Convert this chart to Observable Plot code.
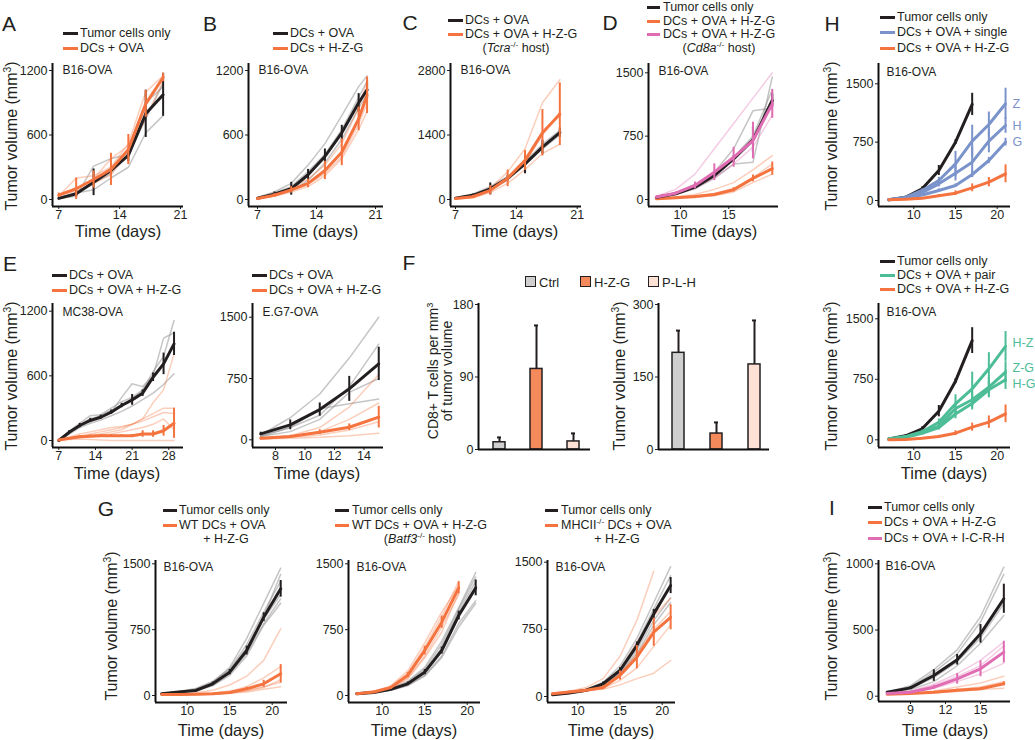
<!DOCTYPE html>
<html><head><meta charset="utf-8">
<script src="https://cdn.jsdelivr.net/npm/d3@7"></script>
<script src="https://cdn.jsdelivr.net/npm/@observablehq/plot@0.6"></script>
<style>
body{margin:0;background:#fff;}
#fig{position:relative;width:1035px;height:740px;overflow:hidden;font-family:"Liberation Sans",Arial,sans-serif;color:#231f20;}
.t{position:absolute;white-space:nowrap;line-height:1;}
.t sup{font-size:65%;vertical-align:0.55em;line-height:0;}
svg{overflow:visible;}
</style></head>
<body><div id="fig"></div>
<script>
// ---------------- DATA ----------------
// Panel A
const daysA = [7, 9, 11, 13, 15, 17, 19];
const aTumor = [10, 53, 160, 270, 410, 797, 974];
const aTumorErr = [5, 30, 124, 40, 60, 220, 200];
const aTumorInd = [[10, 30, 310, 380, 420, 750, 1080], [10, 60, 90, 200, 300, 620, 780], [15, 60, 150, 240, 470, 900, 1050]];
const aDcs = [40, 100, 186, 280, 465, 890, 1135];
const aDcsErr = [20, 100, 80, 150, 140, 125, 40];
const aDcsInd = [[30, 200, 220, 300, 520, 1000, 1150], [40, 80, 150, 230, 430, 760, 1100], [50, 100, 190, 380, 500, 880, 1140]];
// Panel B
const daysB = [7, 9, 11, 13, 15, 17, 19, 20];
const bOva = [12, 50, 100, 230, 400, 620, 900, 1020];
const bOvaErr = [5, 20, 60, 50, 70, 70, 85, 80];
const bOvaInd = [[20, 70, 150, 320, 520, 780, 1050, 1150], [10, 40, 80, 180, 340, 560, 850, 980], [15, 60, 120, 260, 420, 650, 950, 1100]];
const bHzg = [10, 40, 90, 150, 270, 440, 750, 970];
const bHzgErr = [5, 15, 30, 40, 85, 125, 110, 170];
const bHzgInd = [[10, 30, 70, 120, 220, 380, 650, 820], [10, 50, 110, 190, 320, 520, 850, 1100], [5, 35, 80, 140, 240, 400, 700, 900]];
// Panel C
const daysC = [7, 9, 11, 13, 15, 17, 19];
const cOva = [30, 90, 230, 460, 775, 1135, 1450];
const cOvaErr = [10, 30, 130, 60, 217, 150, 100];
const cOvaInd = [[40, 120, 280, 500, 750, 1100, 1400], [30, 80, 200, 420, 820, 1200, 1500]];
const cHzg = [20, 60, 200, 460, 850, 1450, 1850];
const cHzgErr = [10, 30, 100, 180, 217, 505, 680];
const cHzgInd = [[20, 80, 250, 600, 1100, 2100, 2600], [10, 40, 150, 350, 650, 1000, 1200], [30, 70, 220, 450, 800, 1400, 1900]];
// Panel D
const daysD = [7.5, 9.5, 11.5, 13.5, 15.5, 17.5, 19.5];
const dTumor = [27, 67, 146, 284, 481, 706, 1172];
const dTumorErr = [5, 10, 20, 30, 40, 155, 80];
const dTumorInd = [[30, 80, 180, 320, 600, 1050, 1080], [25, 60, 130, 250, 420, 440, 1450], [27, 70, 150, 300, 500, 750, 1300]];
const dHzg = [10, 20, 35, 60, 115, 250, 365];
const dHzgErr = [3, 5, 8, 10, 25, 40, 79];
const dHzgInd = [[15, 30, 60, 120, 200, 350, 520], [8, 15, 25, 45, 90, 200, 300], [10, 20, 40, 70, 130, 260, 420]];
const dCd8 = [30, 75, 166, 323, 500, 698, 1132];
const dCd8Err = [5, 15, 40, 99, 118, 217, 171];
const dCd8Ind = [[40, 120, 300, 600, 900, 1200, 1500], [25, 60, 130, 260, 420, 620, 1000], [30, 70, 150, 300, 480, 700, 1200]];
// Panel E (MC38-OVA)
const daysE1 = [7, 9, 11, 13, 15, 17, 19, 21, 23, 25, 27, 29];
const e1Ova = [0, 77, 139, 186, 216, 263, 325, 377, 439, 587, 711, 897];
const e1OvaErr = [5, 15, 20, 20, 20, 20, 20, 50, 30, 40, 100, 108];
const e1OvaInd = [[0, 90, 160, 230, 240, 300, 360, 400, 470, 640, 780, 1113], [0, 70, 140, 190, 210, 260, 400, 526, 500, 600, 700, 900], [0, 60, 120, 160, 190, 230, 270, 320, 380, 440, 520, 619], [0, 80, 150, 200, 230, 280, 330, 380, 460, 600, 950, 1000]];
const e1Hzg = [5, 20, 35, 40, 45, 45, 45, 45, 60, 60, 90, 160];
const e1HzgErr = [3, 5, 8, 10, 10, 10, 10, 10, 30, 30, 50, 140];
const e1HzgInd = [[5, 30, 60, 80, 100, 120, 130, 150, 200, 350, 470, 804], [5, 20, 40, 60, 80, 100, 120, 150, 180, 220, 260, 250], [5, 15, 30, 40, 50, 60, 80, 100, 120, 150, 200, 100], [5, 10, 15, 10, 5, 0, 0, 0, 0, 0, 0, 0], [5, 20, 40, 50, 60, 80, 100, 150, 200, 250, 300, 300]];
// Panel E (E.G7-OVA)
const daysE2 = [7, 9, 11, 13, 15];
const e2Ova = [73, 183, 370, 623, 929];
const e2OvaErr = [20, 60, 81, 153, 204];
const e2OvaInd = [[60, 270, 560, 1000, 1500], [50, 150, 300, 650, 1170], [40, 150, 380, 440, 500], [40, 100, 250, 580, 750]];
const e2Hzg = [20, 40, 93, 154, 277];
const e2HzgErr = [10, 15, 30, 40, 133];
const e2HzgInd = [[20, 50, 150, 400, 800], [20, 40, 100, 250, 450], [10, 30, 60, 120, 220], [10, 20, 30, 50, 80]];
// Panel F
const fGroups = ["Ctrl", "H-Z-G", "P-L-H"];
const fCd8 = [9, 100, 10];
const fCd8Err = [6, 54, 10];
const fVolume = [200, 33, 176];
const fVolumeErr = [46, 23, 91];
// Panel H (single / pair)
const daysH = [7, 9, 11, 13, 15, 17, 19, 21];
const daysHCtrl = [7, 9, 11, 13, 15, 17];
const h1Tumor = [10, 42, 150, 386, 750, 1235];
const h1TumorErr = [5, 10, 25, 64, 30, 143];
const h1Z = [10, 40, 129, 257, 471, 764, 977, 1243];
const h1ZErr = [5, 10, 20, 40, 160, 204, 160, 200];
const h1H = [10, 35, 100, 214, 351, 493, 763, 964];
const h1HErr = [5, 8, 20, 40, 100, 193, 150, 100];
const h1G = [10, 30, 70, 129, 193, 334, 514, 750];
const h1GErr = [5, 5, 10, 20, 20, 40, 40, 50];
const h1Hzg = [10, 15, 30, 60, 94, 163, 236, 343];
const h1HzgErr = [3, 5, 8, 15, 30, 50, 60, 115];
const h2Tumor = [10, 50, 136, 355, 727, 1230];
const h2TumorErr = [5, 10, 25, 70, 30, 160];
const h2HZ = [10, 40, 100, 218, 446, 632, 880, 1157];
const h2HZErr = [5, 10, 20, 40, 112, 207, 200, 185];
const h2ZG = [10, 35, 90, 170, 388, 496, 652, 838];
const h2ZGErr = [5, 8, 15, 30, 60, 100, 120, 130];
const h2HG = [10, 30, 80, 150, 320, 450, 620, 744];
const h2HGErr = [5, 8, 15, 30, 60, 80, 100, 120];
const h2Hzg = [0, 5, 20, 40, 82, 157, 219, 322];
const h2HzgErr = [2, 3, 5, 15, 30, 50, 77, 110];
// Panel G
const daysG = [7, 9, 11, 13, 15, 17, 19, 21];
const daysGBatf = [7, 9, 11, 13, 15, 17, 19];
const g1Tumor = [19, 40, 57, 133, 266, 512, 892, 1215];
const g1TumorErr = [5, 5, 10, 20, 30, 50, 50, 95];
const g1TumorInd = [[20, 40, 70, 150, 320, 650, 1050, 1450], [15, 35, 60, 120, 250, 480, 820, 1100], [20, 45, 80, 160, 300, 580, 950, 1300], [18, 38, 55, 110, 230, 450, 800, 1050], [22, 42, 65, 140, 290, 540, 900, 1380], [20, 40, 60, 130, 270, 520, 870, 1150]];
const g1Hzg = [10, 10, 15, 20, 35, 76, 133, 247];
const g1HzgErr = [3, 3, 5, 5, 10, 20, 40, 105];
const g1HzgInd = [[10, 15, 30, 60, 120, 220, 400, 760], [10, 10, 15, 25, 50, 100, 200, 330], [10, 10, 15, 20, 30, 60, 100, 150], [5, 8, 10, 15, 25, 40, 70, 100], [10, 10, 12, 18, 30, 50, 90, 180]];
const g2Tumor = [20, 35, 70, 133, 266, 512, 911, 1226];
const g2TumorErr = [5, 5, 10, 20, 30, 40, 50, 90];
const g2TumorInd = [[20, 40, 80, 160, 320, 620, 1000, 1400], [15, 30, 60, 120, 230, 450, 820, 1080], [20, 40, 70, 140, 280, 540, 950, 1300], [18, 35, 60, 110, 220, 430, 780, 1050], [22, 42, 75, 150, 300, 580, 980, 1350]];
const g2Hzg = [20, 40, 90, 231, 512, 835, 1226];
const g2HzgErr = [5, 10, 15, 30, 50, 70, 70];
const g2HzgInd = [[20, 45, 110, 280, 600, 950, 1250], [20, 40, 80, 200, 450, 780, 1150], [25, 50, 100, 250, 550, 900, 1300], [15, 35, 70, 190, 430, 720, 1180]];
const g3Tumor = [20, 40, 70, 142, 290, 569, 923, 1239];
const g3TumorErr = [5, 5, 10, 20, 30, 40, 50, 90];
const g3TumorInd = [[20, 40, 80, 160, 340, 650, 1050, 1450], [18, 35, 65, 130, 260, 520, 850, 1100], [20, 42, 75, 150, 310, 600, 980, 1350], [15, 35, 60, 120, 250, 480, 800, 1050]];
const g3Hzg = [30, 50, 70, 100, 234, 439, 718, 885];
const g3HzgErr = [5, 10, 10, 20, 50, 130, 157, 140];
const g3HzgInd = [[30, 60, 100, 200, 450, 850, 1400], [30, 50, 80, 120, 300, 600, 900, 1100], [25, 45, 60, 90, 180, 320, 560, 800], [30, 50, 70, 80, 130, 200, 260, 402], [35, 55, 75, 110, 250, 480, 750, 950]];
// Panel I
const daysI = [7, 9, 11, 13, 15, 17];
const iTumor = [30, 63, 156, 275, 471, 736];
const iTumorErr = [5, 10, 44, 40, 70, 110];
const iTumorInd = [[30, 80, 200, 350, 600, 975], [30, 70, 180, 320, 560, 920], [25, 50, 110, 230, 400, 610], [35, 60, 140, 260, 440, 700]];
const iIcrh = [20, 30, 68, 131, 207, 333];
const iIcrhErr = [5, 8, 15, 40, 60, 82];
const iIcrhInd = [[20, 40, 90, 170, 270, 410], [20, 30, 60, 110, 170, 250], [20, 35, 80, 150, 230, 380]];
const iHzg = [15, 20, 30, 45, 56, 94];
const iHzgErr = [3, 5, 5, 8, 10, 15];
const iHzgInd = [[15, 25, 40, 70, 100, 150], [15, 20, 25, 35, 50, 60], [15, 20, 30, 50, 70, 110]];

// ---------------- STYLE ----------------
const FONT = '"Liberation Sans", Arial, sans-serif';
const BLACK = "#231f20", ORANGE = "#f4733f", BLUE = "#7a93cb", GREEN = "#4dbd97", PINK = "#e06db3", GRAY = "#8c8c8c";
const fig = document.getElementById("fig");

function rows(days, vals, errs) {
  return vals.map((v, i) => ({x: days[i], y: v, e: errs ? errs[i] : 0}));
}
function calib(v1, p1, v2, p2, a, b) {
  const k = (p2 - p1) / (v2 - v1);
  return [v1 + (a - p1) / k, v1 + (b - p1) / k];
}
function place(svg, left, top) {
  svg.style.position = "absolute";
  svg.style.left = left + "px";
  svg.style.top = top + "px";
  fig.appendChild(svg);
}
function txt(x, y, html, o = {}) {
  const d = document.createElement("div");
  d.className = "t";
  d.innerHTML = html;
  d.style.left = x + "px";
  d.style.top = y + "px";
  d.style.fontSize = (o.size || 12.5) + "px";
  if (o.color) d.style.color = o.color;
  let tr = o.anchor === "middle" ? "translate(-50%,-50%)" : "translate(0,-50%)";
  if (o.rotate) { tr = "translate(-50%,-50%) rotate(-90deg)"; d.style.textAlign = "center"; }
  if (o.lh) d.style.lineHeight = o.lh + "px";
  d.style.transform = tr;
  fig.appendChild(d);
}
function legLine(x1, x2, y, color) {
  const d = document.createElement("div");
  d.style.cssText = `position:absolute;left:${x1}px;top:${y - 1.5}px;width:${x2 - x1}px;height:3px;background:${color};`;
  fig.appendChild(d);
}
function legend(x1, x2, xt, ys, items) {
  items.forEach((it, i) => {
    if (it.color) legLine(x1, x2, ys[i], it.color);
    if (it.center != null) txt(it.center, ys[i], it.text, {anchor: "middle"});
    else txt(xt, ys[i], it.text);
  });
}
function swatch(x, y, color) {
  const d = document.createElement("div");
  d.style.cssText = `position:absolute;left:${x}px;top:${y - 6}px;width:9px;height:9px;background:${color};border:1.5px solid #231f20;`;
  fig.appendChild(d);
}

const ML = 44, MR = 8, MT = 6, MB = 24;
function linePanel(c) {
  const xd = calib(...c.xCal, c.xL, c.xR);
  const yd = calib(...c.yCal, c.yB, c.yT);
  const marks = [];
  c.groups.forEach(g => (g.ind || []).forEach(v => {
    marks.push(Plot.line(rows(g.days, v), {x: "x", y: "y", stroke: g.faint || g.color, strokeOpacity: g.color === BLACK ? 0.5 : 0.35, strokeWidth: 1.5}));
  }));
  c.groups.forEach(g => {
    const r = rows(g.days, g.vals, g.errs);
    marks.push(Plot.ruleX(r, {x: "x", y1: d => d.y - d.e, y2: d => d.y + d.e, stroke: g.color, strokeWidth: 2}));
    marks.push(Plot.line(r, {x: "x", y: "y", stroke: g.color, strokeWidth: 3, strokeLinejoin: "round"}));
    if (g.label) marks.push(Plot.text([r[r.length - 1]], {x: "x", y: "y", text: () => g.label, dx: 7, dy: g.ldy || 0, textAnchor: "start", fill: g.color, fontSize: 12.5}));
  });
  marks.push(Plot.ruleX([xd[0]], {stroke: "#111", strokeWidth: 2}));
  marks.push(Plot.ruleY([yd[0]], {stroke: "#111", strokeWidth: 2}));
  marks.push(Plot.text([c.title], {frameAnchor: "top-left", dx: c.tdx || 10, dy: c.tdy || 8, textAnchor: "start", lineAnchor: "middle", fontSize: 12, fill: BLACK}));
  const svg = Plot.plot({
    width: c.xR - c.xL + ML + MR, height: c.yB - c.yT + MT + MB,
    marginLeft: ML, marginRight: MR, marginTop: MT, marginBottom: MB,
    style: {fontSize: "12.5px", fontFamily: FONT, color: BLACK, background: "transparent", overflow: "visible"},
    x: {domain: xd, ticks: c.xTicks, tickSize: 3, tickPadding: 1, tickFormat: d => String(d), label: null},
    y: {domain: yd, ticks: c.yTicks, tickSize: 3, tickPadding: 2, tickFormat: d => String(d), label: null},
    marks
  });
  place(svg, c.xL - ML, c.yT - MT);
}

function barPanel(c) {
  const yd = [0, calib(...c.yCal, c.yB, c.yT)[1]];
  const data = fGroups.map((k, i) => ({k, v: c.vals[i], e: c.errs[i]}));
  const fills = {"Ctrl": "#cfcfcf", "H-Z-G": "#f4895c", "P-L-H": "#fde1d4"};
  const svg = Plot.plot({
    width: c.xR - c.xL + ML + MR, height: c.yB - c.yT + MT + MB,
    marginLeft: ML, marginRight: MR, marginTop: MT, marginBottom: MB,
    style: {fontSize: "12.5px", fontFamily: FONT, color: BLACK, background: "transparent", overflow: "visible"},
    x: {domain: fGroups, range: [c.b0 - (c.xL - ML), c.b1 - (c.xL - ML)], paddingInner: 0.68, paddingOuter: 0, axis: null},
    y: {domain: yd, ticks: c.yTicks, tickSize: 3, tickPadding: 2, tickFormat: d => String(d), label: null},
    marks: [
      Plot.ruleX(data, {x: "k", y1: "v", y2: d => d.v + d.e, stroke: BLACK, strokeWidth: 2}),
      Plot.tickY(data, {x: "k", y: d => d.v + d.e, stroke: BLACK, strokeWidth: 2, insetLeft: 4, insetRight: 4}),
      Plot.barY(data, {x: "k", y: "v", fill: d => fills[d.k], stroke: BLACK, strokeWidth: 1.5}),
      Plot.ruleY([0], {stroke: "#111", strokeWidth: 2})
    ]
  });
  place(svg, c.xL - ML, c.yT - MT);
  const ax = Plot.plot({
    width: 10, height: c.yB - c.yT, margin: 0, x: {axis: null, domain: [0, 1]}, y: {axis: null, domain: [0, 1]},
    style: {background: "transparent", overflow: "visible"},
    marks: [Plot.ruleX([0], {stroke: "#111", strokeWidth: 2})]
  });
  place(ax, c.xL, c.yT);
}

// ---------------- PANELS ----------------
const TL = "Tumor cells only";
linePanel({xL: 52, xR: 183, yT: 63, yB: 206, xCal: [7, 58.3, 21, 180], yCal: [0, 199, 1200, 70], xTicks: [7, 14, 21], yTicks: [0, 600, 1200], title: "B16-OVA", tdy: 7,
  groups: [{days: daysA, vals: aTumor, errs: aTumorErr, ind: aTumorInd, color: BLACK, faint: GRAY},
           {days: daysA, vals: aDcs, errs: aDcsErr, ind: aDcsInd, color: ORANGE}]});
linePanel({xL: 248, xR: 383, yT: 63, yB: 206, xCal: [7, 257, 21, 375], yCal: [0, 199, 1200, 70], xTicks: [7, 14, 21], yTicks: [0, 600, 1200], title: "B16-OVA", tdy: 7,
  groups: [{days: daysB, vals: bOva, errs: bOvaErr, ind: bOvaInd, color: BLACK, faint: GRAY},
           {days: daysB, vals: bHzg, errs: bHzgErr, ind: bHzgInd, color: ORANGE}]});
linePanel({xL: 450, xR: 581, yT: 63, yB: 206, xCal: [7, 455, 21, 576.7], yCal: [0, 199, 2800, 70], xTicks: [7, 14, 21], yTicks: [0, 1400, 2800], title: "B16-OVA", tdy: 7,
  groups: [{days: daysC, vals: cOva, errs: cOvaErr, ind: cOvaInd, color: BLACK, faint: GRAY},
           {days: daysC, vals: cHzg, errs: cHzgErr, ind: cHzgInd, color: ORANGE}]});
linePanel({xL: 648, xR: 778, yT: 63, yB: 206, xCal: [10, 680, 15, 728.3], yCal: [0, 199, 1500, 72.3], xTicks: [10, 15], yTicks: [0, 750, 1500], title: "B16-OVA", tdy: 8,
  groups: [{days: daysD, vals: dHzg, errs: dHzgErr, ind: dHzgInd, color: ORANGE},
           {days: daysD, vals: dTumor, errs: dTumorErr, ind: dTumorInd, color: BLACK, faint: GRAY},
           {days: daysD, vals: dCd8, errs: dCd8Err, ind: dCd8Ind, color: PINK}]});
linePanel({xL: 878, xR: 1010, yT: 63, yB: 206, xCal: [10, 913.3, 20, 996.7], yCal: [0, 200, 1500, 83.3], xTicks: [10, 15, 20], yTicks: [0, 750, 1500], title: "B16-OVA", tdx: 8, tdy: 9,
  groups: [{days: daysHCtrl, vals: h1Tumor, errs: h1TumorErr, color: BLACK},
           {days: daysH, vals: h1Z, errs: h1ZErr, color: BLUE, label: "Z"},
           {days: daysH, vals: h1H, errs: h1HErr, color: BLUE, label: "H"},
           {days: daysH, vals: h1G, errs: h1GErr, color: BLUE, label: "G"},
           {days: daysH, vals: h1Hzg, errs: h1HzgErr, color: ORANGE}]});
linePanel({xL: 52, xR: 183, yT: 303, yB: 447, xCal: [7, 58.3, 28, 168.3], yCal: [0, 440, 1200, 310.7], xTicks: [7, 14, 21, 28], yTicks: [0, 600, 1200], title: "MC38-OVA", tdy: 9,
  groups: [{days: daysE1, vals: e1Ova, errs: e1OvaErr, ind: e1OvaInd, color: BLACK, faint: GRAY},
           {days: daysE1, vals: e1Hzg, errs: e1HzgErr, ind: e1HzgInd, color: ORANGE}]});
linePanel({xL: 252, xR: 383, yT: 303, yB: 447, xCal: [8, 275, 14, 363.5], yCal: [0, 439.3, 1500, 316.7], xTicks: [8, 10, 12, 14], yTicks: [0, 750, 1500], title: "E.G7-OVA", tdy: 9,
  groups: [{days: daysE2, vals: e2Ova, errs: e2OvaErr, ind: e2OvaInd, color: BLACK, faint: GRAY},
           {days: daysE2, vals: e2Hzg, errs: e2HzgErr, ind: e2HzgInd, color: ORANGE}]});
barPanel({xL: 478, xR: 590, yT: 303, yB: 449, yCal: [0, 449, 180, 304], yTicks: [0, 90, 180], vals: fCd8, errs: fCd8Err, b0: 493, b1: 579});
barPanel({xL: 658, xR: 769, yT: 303, yB: 449, yCal: [0, 449, 300, 304], yTicks: [0, 150, 300], vals: fVolume, errs: fVolumeErr, b0: 671, b1: 761});
linePanel({xL: 878, xR: 1010, yT: 303, yB: 447, xCal: [10, 913.3, 20, 996.7], yCal: [0, 439.3, 1500, 318.3], xTicks: [10, 15, 20], yTicks: [0, 750, 1500], title: "B16-OVA", tdx: 8, tdy: 9,
  groups: [{days: daysHCtrl, vals: h2Tumor, errs: h2TumorErr, color: BLACK},
           {days: daysH, vals: h2HZ, errs: h2HZErr, color: GREEN, label: "H-Z", ldy: -3},
           {days: daysH, vals: h2ZG, errs: h2ZGErr, color: GREEN, label: "Z-G", ldy: -4},
           {days: daysH, vals: h2HG, errs: h2HGErr, color: GREEN, label: "H-G", ldy: 4},
           {days: daysH, vals: h2Hzg, errs: h2HzgErr, color: ORANGE}]});
linePanel({xL: 155, xR: 287, yT: 560, yB: 702, xCal: [10, 186.7, 20, 271.7], yCal: [0, 695, 1500, 563.3], xTicks: [10, 15, 20], yTicks: [0, 750, 1500], title: "B16-OVA", tdx: 8, tdy: 7,
  groups: [{days: daysG, vals: g1Tumor, errs: g1TumorErr, ind: g1TumorInd, color: BLACK, faint: GRAY},
           {days: daysG, vals: g1Hzg, errs: g1HzgErr, ind: g1HzgInd, color: ORANGE}]});
linePanel({xL: 348, xR: 480, yT: 560, yB: 702, xCal: [10, 381.7, 20, 466.7], yCal: [0, 695, 1500, 563.3], xTicks: [10, 15, 20], yTicks: [0, 750, 1500], title: "B16-OVA", tdx: 8, tdy: 7,
  groups: [{days: daysG, vals: g2Tumor, errs: g2TumorErr, ind: g2TumorInd, color: BLACK, faint: GRAY},
           {days: daysGBatf, vals: g2Hzg, errs: g2HzgErr, ind: g2HzgInd, color: ORANGE}]});
linePanel({xL: 547, xR: 675, yT: 560, yB: 702, xCal: [10, 577.3, 20, 661.7], yCal: [0, 696, 1500, 561.7], xTicks: [10, 15, 20], yTicks: [0, 750, 1500], title: "B16-OVA", tdx: 8, tdy: 7,
  groups: [{days: daysG, vals: g3Tumor, errs: g3TumorErr, ind: g3TumorInd, color: BLACK, faint: GRAY},
           {days: daysG, vals: g3Hzg, errs: g3HzgErr, ind: g3HzgInd, color: ORANGE}]});
linePanel({xL: 878, xR: 1010, yT: 560, yB: 701, xCal: [9, 910, 15, 980], yCal: [0, 695.7, 1000, 563.3], xTicks: [9, 12, 15], yTicks: [0, 500, 1000], title: "B16-OVA", tdx: 7, tdy: 6,
  groups: [{days: daysI, vals: iHzg, errs: iHzgErr, ind: iHzgInd, color: ORANGE},
           {days: daysI, vals: iTumor, errs: iTumorErr, ind: iTumorInd, color: BLACK, faint: GRAY},
           {days: daysI, vals: iIcrh, errs: iIcrhErr, ind: iIcrhInd, color: PINK}]});

// ---------------- TEXT ----------------
const VOL = "Tumor volume (mm<sup>3</sup>)";
const TD = "Time (days)";
[["A", 9, 23], ["B", 210, 23], ["C", 410, 22], ["D", 610, 22], ["H", 832, 23], ["E", 10, 263], ["F", 409, 262], ["G", 106, 508], ["I", 832, 507]]
  .forEach(([l, x, y]) => txt(x, y, l, {size: 21, anchor: "middle"}));
[[118, 231], [315, 231], [515, 231], [714, 231], [117, 473], [317, 473], [944, 473], [221, 730], [414, 730], [611, 730], [945, 730]]
  .forEach(([x, y]) => txt(x, y, TD, {size: 16.5, anchor: "middle"}));
[[12, 136], [832, 136], [12, 376], [832, 376], [620, 376], [112, 626], [832, 626]]
  .forEach(([x, y]) => txt(x, y, VOL, {size: 16, rotate: true}));
txt(440, 371, "CD8+ T cells per mm<sup>3</sup><br>of tumor volume", {size: 14, rotate: true, lh: 14});

legend(63, 78, 80, [33, 48], [{text: TL, color: BLACK}, {text: "DCs + OVA", color: ORANGE}]);
legend(273, 288, 290, [33, 48], [{text: "DCs + OVA", color: BLACK}, {text: "DCs + H-Z-G", color: ORANGE}]);
legend(448, 463, 465, [20, 34, 48], [{text: "DCs + OVA", color: BLACK}, {text: "DCs + OVA + H-Z-G", color: ORANGE}, {text: "(<i>Tcra</i><sup>-/-</sup> host)", center: 516}]);
legend(647, 660, 663, [7, 21, 34, 48], [{text: TL, color: BLACK}, {text: "DCs + OVA + H-Z-G", color: ORANGE}, {text: "DCs + OVA + H-Z-G", color: PINK}, {text: "(<i>Cd8a</i><sup>-/-</sup> host)", center: 719}]);
legend(880, 895, 897, [17, 32, 48], [{text: TL, color: BLACK}, {text: "DCs + OVA + single", color: BLUE}, {text: "DCs + OVA + H-Z-G", color: ORANGE}]);
legend(52, 67, 69, [275, 290], [{text: "DCs + OVA", color: BLACK}, {text: "DCs + OVA + H-Z-G", color: ORANGE}]);
legend(252, 267, 269, [275, 290], [{text: "DCs + OVA", color: BLACK}, {text: "DCs + OVA + H-Z-G", color: ORANGE}]);
legend(880, 895, 897, [261, 275, 289], [{text: TL, color: BLACK}, {text: "DCs + OVA + pair", color: GREEN}, {text: "DCs + OVA + H-Z-G", color: ORANGE}]);
legend(163, 177, 179, [510, 525, 539], [{text: TL, color: BLACK}, {text: "WT DCs + OVA", color: ORANGE}, {text: "+ H-Z-G", center: 226}]);
legend(335, 349, 352, [510, 525, 539], [{text: TL, color: BLACK}, {text: "WT DCs + OVA + H-Z-G", color: ORANGE}, {text: "(<i>Batf3</i><sup>-/-</sup> host)", center: 420}]);
legend(545, 558, 561, [510, 525, 539], [{text: TL, color: BLACK}, {text: "MHCII<sup>-/-</sup> DCs + OVA", color: ORANGE}, {text: "+ H-Z-G", center: 617}]);
legend(868, 882, 884, [507, 522, 538], [{text: TL, color: BLACK}, {text: "DCs + OVA + H-Z-G", color: ORANGE}, {text: "DCs + OVA + I-C-R-H", color: PINK}]);
swatch(525, 282, "#cfcfcf"); txt(539, 282, "Ctrl", {size: 13});
swatch(580, 282, "#f4895c"); txt(594, 282, "H-Z-G", {size: 13});
swatch(648, 282, "#fde1d4"); txt(662, 282, "P-L-H", {size: 13});
</script></body></html>
